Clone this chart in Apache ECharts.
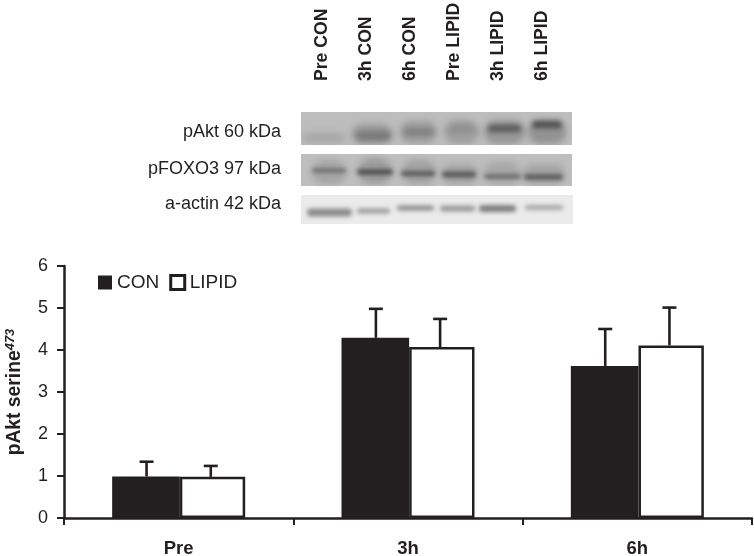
<!DOCTYPE html>
<html><head><meta charset="utf-8">
<style>html,body{margin:0;padding:0;background:#fff}#c{width:754px;height:556px}</style>
<script src="https://cdn.jsdelivr.net/npm/echarts@6/dist/echarts.min.js"></script>
</head><body><div id="c"></div>
<script>
const categories = ['Pre', '3h', '6h'];
const conValues = [0.99, 4.29, 3.62];
const lipidValues = [0.98, 4.07, 4.11];
const conErrorTop = [1.34, 4.98, 4.50];
const lipidErrorTop = [1.24, 4.74, 5.01];
const laneLabels = ['Pre CON', '3h CON', '6h CON', 'Pre LIPID', '3h LIPID', '6h LIPID'];
const blotLabels = ['pAkt 60 kDa', 'pFOXO3 97 kDa', 'a-actin 42 kDa'];

const INK = '#231f20';
const FONT = '"Liberation Sans", Arial, sans-serif';

const graphics = [];
const laneX = [322, 366, 410, 454.5, 498.5, 542.5];
laneLabels.forEach((t, i) => graphics.push({
  type: 'text', x: laneX[i], y: 81, rotation: Math.PI / 2, silent: true,
  style: { text: t, font: 'bold 17.6px ' + FONT, fill: INK, align: 'left', verticalAlign: 'middle' }
}));
[132, 169, 204].forEach((y, i) => graphics.push({
  type: 'text', x: 281, y, silent: true,
  style: { text: blotLabels[i], font: '18px ' + FONT, fill: INK, align: 'right', verticalAlign: 'middle' }
}));

// Decorative blot photographs: soft, shadow-only smudges clipped to each panel
const FAR = 3000;
function panel(y, h, w, bg, items) {
  graphics.push({ type: 'rect', silent: true, shape: { x: 301, y, width: w, height: h }, style: { fill: bg } });
  graphics.push({
    type: 'group', silent: true,
    children: items.map(([x0, x1, cy, hh, col, blur]) => ({
      type: 'rect', silent: true,
      shape: { x: x0 - FAR, y: cy - hh / 2, width: x1 - x0, height: hh, r: hh / 2 },
      style: { fill: '#000', shadowColor: col, shadowBlur: blur, shadowOffsetX: FAR }
    }))
  });
}
panel(112, 33, 271, '#bdbdbd', [
  [303, 345, 138, 10, 'rgba(120,120,120,.30)', 6],
  [352, 392, 134, 20, 'rgba(90,90,90,.35)', 6],
  [400, 437, 132, 22, 'rgba(90,90,90,.30)', 6],
  [444, 479, 132, 24, 'rgba(90,90,90,.30)', 6],
  [484, 525, 132, 24, 'rgba(80,80,80,.35)', 6],
  [528, 566, 132, 24, 'rgba(80,80,80,.38)', 6],
  [356, 391, 136, 8, 'rgba(70,70,70,.45)', 6],
  [404, 434, 132, 6, 'rgba(70,70,70,.45)', 6],
  [449, 474, 129, 5, 'rgba(80,80,80,.28)', 6],
  [488, 521, 128.5, 7, 'rgba(50,50,50,.60)', 5],
  [532, 562, 124.5, 7, 'rgba(40,40,40,.65)', 5]
]);
panel(154, 32, 271, '#bebebe', [
  [312, 346, 172, 24, 'rgba(90,90,90,.25)', 6],
  [358, 392, 171, 26, 'rgba(80,80,80,.30)', 6],
  [402, 436, 172, 24, 'rgba(90,90,90,.28)', 6],
  [442, 478, 174, 20, 'rgba(90,90,90,.25)', 6],
  [484, 520, 173, 22, 'rgba(90,90,90,.22)', 6],
  [523, 565, 174, 20, 'rgba(90,90,90,.25)', 6],
  [312, 346, 170.5, 3, 'rgba(50,50,50,.65)', 4],
  [357, 393, 172, 5, 'rgba(40,40,40,.70)', 4],
  [401, 435, 173.5, 5, 'rgba(50,50,50,.65)', 4],
  [442, 476, 174.5, 6, 'rgba(50,50,50,.65)', 4],
  [484, 521, 176.5, 4, 'rgba(60,60,60,.65)', 4],
  [524, 563, 177, 5, 'rgba(50,50,50,.70)', 4]
]);
panel(195, 29, 272, '#ebebeb', [
  [307, 352, 212.5, 8, 'rgba(100,100,100,.70)', 4],
  [357, 390, 211, 5, 'rgba(110,110,110,.65)', 4],
  [397, 434, 208, 5, 'rgba(100,100,100,.70)', 4],
  [440, 475, 208.5, 6, 'rgba(110,110,110,.65)', 4],
  [479, 516, 208.5, 7, 'rgba(90,90,90,.75)', 4],
  [525, 563, 207.5, 5, 'rgba(120,120,120,.60)', 4]
]);
// Cover anything smudged past the panels' edges
[[296, 109, 5, 118], [572, 109, 5, 36], [572, 154, 5, 32], [573, 195, 5, 29],
 [296, 108, 282, 4], [296, 145, 282, 9], [296, 186, 282, 9], [296, 224, 282, 4]].forEach(([x, y, w, h]) =>
  graphics.push({ type: 'rect', silent: true, shape: { x, y, width: w, height: h }, style: { fill: '#fff' } }));

function errorSeries(name, tops, values, sign) {
  return {
    type: 'custom', name, silent: true, z: 1,
    data: categories.map((c, i) => [i, values[i], tops[i]]),
    encode: { x: 0, y: [1, 2] },
    renderItem(params, api) {
      const i = api.value(0);
      const bandW = api.size([1, 0])[0];
      const off = sign * bandW * 0.14;
      const base = api.coord([i, api.value(1)]);
      const top = api.coord([i, api.value(2)]);
      const x = base[0] + off;
      const st = { stroke: INK, lineWidth: 2.6, fill: null };
      return { type: 'group', children: [
        { type: 'line', shape: { x1: x, y1: base[1], x2: x, y2: top[1] }, style: st },
        { type: 'line', shape: { x1: x - 7, y1: top[1], x2: x + 7, y2: top[1] }, style: st }
      ] };
    }
  };
}

const chart = echarts.init(document.getElementById('c'), null, { renderer: 'canvas' });
chart.setOption({
  animation: false,
  backgroundColor: '#fff',
  textStyle: { fontFamily: FONT, color: INK },
  grid: { left: 64, top: 266, width: 688, height: 252, containLabel: false, outerBoundsMode: 'none' },
  legend: {
    left: 93, top: 268, padding: 5, itemWidth: 14, itemHeight: 14, itemGap: 10, icon: 'rect',
    data: [
      { name: 'CON', itemStyle: { color: INK, borderColor: INK, borderWidth: 0 } },
      { name: 'LIPID', itemStyle: { color: '#fff', borderColor: INK, borderWidth: 3 } }
    ],
    textStyle: { fontSize: 19, color: INK, fontFamily: FONT },
    selectedMode: false
  },
  xAxis: {
    type: 'category', data: categories,
    axisLine: { lineStyle: { color: INK, width: 2.5 } },
    axisTick: { show: true, length: 7, alignWithLabel: false, lineStyle: { color: INK, width: 2 } },
    axisLabel: { fontSize: 18.5, fontWeight: 'bold', color: INK, margin: 21, fontFamily: FONT },
    splitLine: { show: false }
  },
  yAxis: {
    type: 'value', min: 0, max: 6, interval: 1,
    axisLine: { show: true, lineStyle: { color: INK, width: 2.5 } },
    axisTick: { show: true, length: 7, lineStyle: { color: INK, width: 2 } },
    axisLabel: { fontSize: 18, color: INK, margin: 16, fontFamily: FONT },
    splitLine: { show: false },
    name: '{t|pAkt serine}{s|473}',
    nameLocation: 'middle', nameRotate: 90, nameGap: 38,
    nameTextStyle: {
      rich: {
        t: { fontSize: 19.3, fontWeight: 'bold', color: INK, fontFamily: FONT, lineHeight: 22 },
        s: { fontSize: 13, fontWeight: 'bold', fontStyle: 'italic', color: INK, fontFamily: FONT, verticalAlign: 'top', lineHeight: 22 }
      }
    }
  },
  series: [
    { type: 'bar', name: 'CON', data: conValues, barWidth: '29.5%', barGap: '0%', z: 2,
      itemStyle: { color: INK, borderColor: INK, borderWidth: 0 } },
    { type: 'bar', name: 'LIPID', data: lipidValues, barWidth: '28.5%', barGap: '0%', z: 2,
      itemStyle: { color: '#fff', borderColor: INK, borderWidth: 2.5 } },
    errorSeries('CON error', conErrorTop, conValues, -1),
    errorSeries('LIPID error', lipidErrorTop, lipidValues, 1)
  ],
  graphic: graphics
});
</script></body></html>
